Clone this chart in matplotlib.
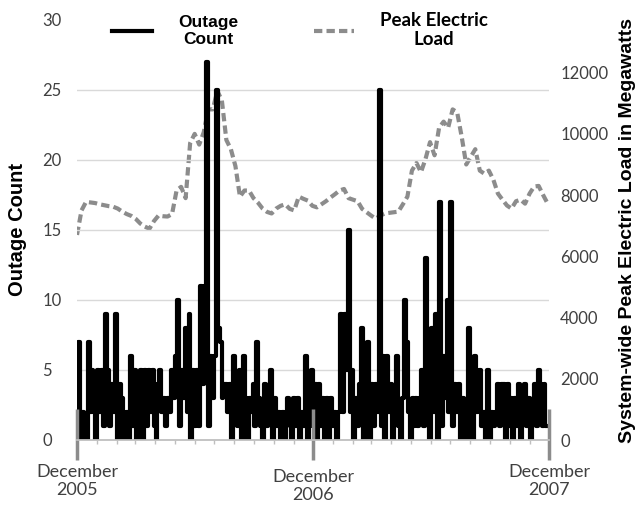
import matplotlib.pyplot as plt
import matplotlib.dates as mdates
import pandas as pd

# outage count, one value every 3 days from Dec 2005
outage_count = [2, 7, 0, 2, 1, 0, 7, 2, 5, 3,
                0, 5, 2, 5, 1, 9, 5, 1, 4, 2,
                9, 0, 4, 3, 0, 1, 2, 0, 6, 1,
                5, 0, 2, 5, 0, 5, 1, 5, 2, 5,
                1, 0, 4, 5, 2, 3, 1, 3, 2, 5,
                3, 6, 10, 1, 5, 3, 8, 2, 9, 0,
                5, 1, 5, 1, 11, 4, 11, 27, 1, 6,
                3, 6, 25, 8, 7, 3, 4, 4, 2, 4,
                0, 6, 2, 1, 5, 0, 6, 3, 0, 3,
                2, 4, 1, 7, 3, 1, 0, 4, 1, 3,
                5, 0, 3, 1, 2, 0, 2, 0, 1, 3,
                2, 0, 3, 1, 3, 0, 2, 1, 6, 0,
                1, 5, 2, 4, 0, 4, 1, 3, 0, 3,
                0, 3, 1, 2, 0, 2, 9, 2, 9, 5,
                15, 2, 5, 0, 3, 1, 4, 8, 0, 5,
                7, 0, 4, 1, 4, 2, 25, 1, 6, 0,
                6, 2, 4, 0, 3, 6, 1, 0, 3, 10,
                7, 2, 0, 3, 1, 3, 1, 3, 5, 1,
                13, 4, 0, 8, 2, 9, 0, 17, 1, 6,
                3, 10, 2, 17, 1, 4, 2, 4, 0, 3,
                2, 0, 8, 1, 0, 6, 2, 3, 5, 1,
                2, 0, 5, 0, 2, 1, 2, 4, 1, 4,
                4, 0, 4, 1, 3, 0, 3, 1, 4, 0,
                2, 4, 1, 3, 0, 2, 4, 1, 5, 4, 1, 4, 1]

# peak electric load (MW), weekly
peak_load = [6700, 7500, 7780, 7760, 7740, 7700, 7670, 7640, 7620, 7560,
             7460, 7380, 7320, 7220, 7070, 6970, 6900, 7150, 7330, 7310,
             7300, 7380, 8150, 8270, 7900, 9700, 10000, 9650, 10050, 10800,
             10800, 11400, 11100, 9800, 9500, 8950, 7950, 8150, 8150, 7900,
             7750, 7560, 7450, 7400, 7560, 7650, 7700, 7550, 7500, 7950,
             7880, 7820, 7650, 7600, 7700, 7800, 7920, 8030, 8150, 8200,
             7900, 7850, 7800, 7550, 7440, 7330, 7230, 7330, 7400, 7420,
             7440, 7460, 7700, 7950, 8800, 9050, 8750, 9180, 9730, 9300,
             10200, 10400, 10200, 10800, 10700, 9900, 9000, 9250, 9500, 8800,
             8700, 8800, 8500, 8050, 7850, 7660, 7560, 7800, 7850, 7720,
             8050, 8280, 8300, 8000, 7720]

tick_dates = ['2005-12-01', '2006-12-01', '2007-12-01']
tick_labels = ['December\n2005', 'December\n2006', 'December\n2007']

out_days = pd.date_range('2005-12-01', periods=len(outage_count), freq='3D')
load_days = pd.date_range('2005-12-01', periods=len(peak_load), freq='7D')
ticks = mdates.date2num(pd.to_datetime(tick_dates))

txt = '#404040'
fig = plt.figure(figsize=(6.38, 5.09), dpi=100)
ax = fig.add_axes([77 / 638, 1 - 440 / 509, 472 / 638, 420 / 509])
ax2 = ax.twinx()
ax.set_zorder(ax2.get_zorder() + 1)
ax.patch.set_visible(False)

l2, = ax2.plot(load_days, peak_load, color='#8c8c8c', lw=3,
               linestyle=(0, (2.0, 1.0)))
l1, = ax.plot(out_days, outage_count, color='black', lw=3,
              drawstyle='steps-mid')

ax.set_xlim(ticks[0], ticks[-1])
ax.set_ylim(0, 30)
ax2.set_ylim(100, 13720)
ax.set_yticks([0, 5, 10, 15, 20, 25, 30])
ax2.set_yticks(range(0, 12001, 2000))

for a in (ax, ax2):
    for s in a.spines.values():
        s.set_visible(False)
ax.spines['bottom'].set_visible(True)
ax.spines['bottom'].set_color('#bfbfbf')
ax.spines['bottom'].set_linewidth(1.3)

ax.yaxis.grid(True, color='#d9d9d9', lw=1)
ax.get_ygridlines()[-1].set_visible(False)
ax.get_ygridlines()[0].set_visible(False)

ax.set_xticks(ticks)
ax.set_xticklabels(tick_labels, fontfamily='Lato', fontsize=13, color=txt)
ax.xaxis.set_minor_locator(mdates.MonthLocator())
ax.tick_params(axis='x', which='major', length=0, pad=17)
ax.tick_params(axis='x', which='minor', length=3, color='#bfbfbf', width=1)
ax.vlines(ticks, -1.4, 2.2, color='#8c8c8c', lw=2.5, clip_on=False)
# middle label sits a bit lower in the original
ax.get_xticklabels()[1].set_y(-0.012)

ax.tick_params(axis='y', length=0, pad=25, labelsize=12, labelcolor=txt)
for t in ax.get_yticklabels():
    t.set_ha('left')
    t.set_fontfamily('Lato')
ax2.tick_params(axis='y', length=0, pad=8, labelsize=12, labelcolor=txt)
for t in ax2.get_yticklabels():
    t.set_fontfamily('Lato')

ax.set_ylabel('Outage Count', fontfamily='Liberation Sans', fontweight='bold',
              fontsize=14.5, color='black', labelpad=11)
ax2.set_ylabel('System-wide Peak Electric Load in Megawatts',
               fontfamily='Liberation Sans', fontweight='bold', fontsize=14,
               color='black', labelpad=8)

leg = fig.legend([l1, l2], ['Outage\nCount', 'Peak Electric\nLoad'],
                 loc='center', bbox_to_anchor=(300 / 638, 1 - 30 / 509),
                 ncol=2, frameon=False, handlelength=2.4, handletextpad=1.6,
                 columnspacing=4.5, fontsize=12)
t0, t1 = leg.get_texts()
t0.set_fontfamily('Liberation Sans')
t0.set_fontweight('bold')
t0.set_fontsize(12.5)
t1.set_fontfamily('Lato')
t1.set_fontweight('bold')
t1.set_fontsize(13.5)
for t in leg.get_texts():
    t.set_multialignment('center')

fig.savefig('out.png', dpi=100)
